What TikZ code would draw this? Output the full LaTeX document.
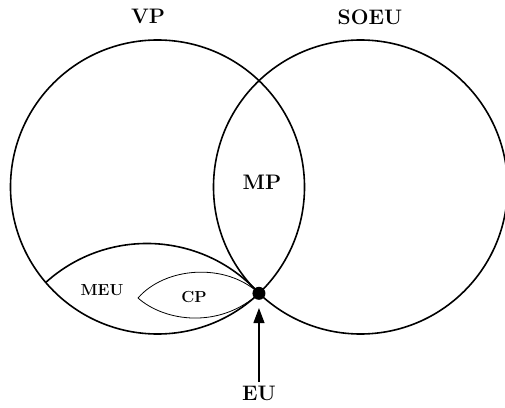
\documentclass[tikz,border=0pt]{standalone}
\usetikzlibrary{arrows.meta,intersections,calc}
\begin{document}
\begin{tikzpicture}[x=1pt,y=1pt,
    ring/.style={draw,line width=1.6pt},
    lens/.style={draw,line width=0.8pt},
    setname/.style={font=\fontsize{21}{25}\selectfont\bfseries},
    subname/.style={font=\fontsize{16}{19}\selectfont\bfseries},]
    \useasboundingbox (0,0) rectangle (505,407);
    \coordinate (vpc) at (157.5,220);
    \coordinate (soeuc) at (360.5,220);
    \draw[ring,name path=vp] (vpc) circle (147);
    \draw[ring,name path=soeu] (soeuc) circle (147);
    \path[name intersections={of=vp and soeu,name=cut,sort by=vp}];
    \coordinate (eu) at (cut-2);
    % MEU region, cut from the bottom of VP
    \coordinate (meustart) at ($(vpc)+(220.5:147)$);
    \draw[ring] (meustart) to[bend left=45] (eu);
    % CP lens
    \coordinate (cptip) at (138,109);
    \draw[lens] (cptip) .. controls (165,140) and (225,145) .. (eu)
        .. controls (220,78) and (165,85) .. (cptip);
    \node[setname] (vplabel) at (148,391) {VP};
    \node[setname] (soeulabel) at (370,390) {SOEU};
    \node[setname] (mplabel) at (262,225) {MP};
    \node[subname] (meulabel) at (102,117) {MEU};
    \node[subname] (cplabel) at (194,110) {CP};
    \node[circle,fill,inner sep=0pt,minimum size=13pt] (eudot) at (eu) {};
    \node[setname] (eulabel) at (eu |- 0,14) {EU};
    \draw[-{Triangle[length=15pt,width=11pt]},line width=1.2pt,shorten >=8pt]
        (eulabel) -- (eudot);
\end{tikzpicture}
\end{document}
